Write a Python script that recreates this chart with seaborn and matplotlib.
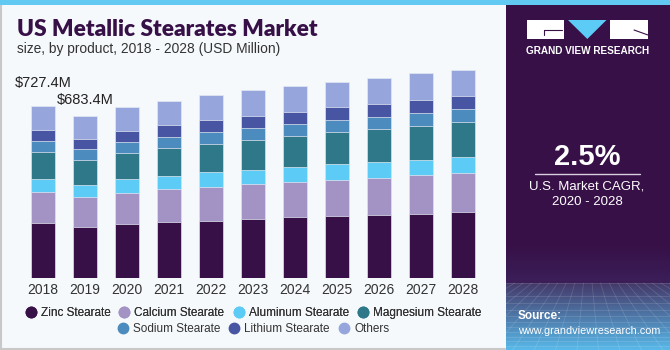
import matplotlib
matplotlib.use("Agg")
import matplotlib.pyplot as plt
import matplotlib.patches as mpatches
from matplotlib.lines import Line2D
import numpy as np
import pandas as pd
import seaborn as sns

years = ["2018", "2019", "2020", "2021", "2022", "2023", "2024", "2025", "2026", "2027", "2028"]
zinc = [229.7, 215.6, 226.9, 235.4, 241.0, 249.5, 255.1, 260.7, 266.4, 270.6, 276.2]
calcium = [131.1, 124.1, 131.1, 138.1, 142.4, 146.5, 150.8, 153.7, 156.4, 162.1, 164.9]
aluminum = [57.8, 53.5, 57.8, 56.4, 62.0, 60.6, 62.0, 64.8, 66.3, 66.2, 67.7]
magnesium = [112.7, 105.7, 112.7, 118.4, 119.8, 126.9, 132.5, 136.7, 139.5, 143.8, 149.4]
sodium = [45.1, 43.7, 45.1, 46.5, 50.7, 49.3, 49.3, 49.3, 50.7, 53.5, 55.0]
lithium = [48.0, 45.1, 46.5, 49.3, 49.3, 52.2, 52.2, 55.0, 55.0, 55.3, 53.7]
others = [103.0, 95.7, 101.5, 102.9, 107.4, 107.5, 108.8, 108.7, 111.5, 112.9, 112.5]

segments = ["Zinc Stearate", "Calcium Stearate", "Aluminum Stearate", "Magnesium Stearate",
            "Sodium Stearate", "Lithium Stearate", "Others"]
series = [zinc, calcium, aluminum, magnesium, sodium, lithium, others]
colors = ["#381048", "#a393c5", "#5ccbf5", "#2f7889", "#4c8bbd", "#4855a3", "#96a6dc"]
annot_labels = ["$727.4M", "$683.4M"]

sns.set_theme(style="white")
plt.rcParams['font.family'] = ['Liberation Sans', 'DejaVu Sans']

BG = "#f5f9fc"
PURPLE = "#371047"
fig = plt.figure(figsize=(6.7, 3.5), dpi=100)
fig.patch.set_facecolor(BG)

W, H = 670.0, 350.0
def fx(px): return px / W
def fy(py): return 1 - py / H

# main axes
ax = fig.add_axes([fx(21.7), fy(277.7), fx(462.0), 217.5 / H])
ax.set_facecolor(BG)

cum = np.zeros(len(years))
cums = []
for s in series:
    cum = cum + np.array(s)
    cums.append(cum.copy())
for name, c, col in reversed(list(zip(segments, cums, colors))):
    d = pd.DataFrame({"year": years, "value": c})
    sns.barplot(data=d, x="year", y="value", order=years, color=col, width=0.58,
                edgecolor="#e3e8f2", linewidth=0.5, saturation=1, ax=ax)

ax.set_xlim(-0.5, 10.5)
ax.set_ylim(0, 920)
ax.set_xlabel("")
ax.set_ylabel("")
ax.set_yticks([])
for sp in ax.spines.values():
    sp.set_visible(False)
ax.tick_params(axis="x", length=0, labelsize=10, labelcolor="#333333", pad=4)

# annotations (offsets in points; 1pt = 1.389px)
totals = cums[-1]
ax.annotate(annot_labels[0], xy=(0, totals[0]), xytext=(-20, 16.3), textcoords="offset points",
            fontsize=10.5, color="#222222", ha="left", va="center")
ax.annotate(annot_labels[1], xy=(1, totals[1]), xytext=(-20, 11.5), textcoords="offset points",
            fontsize=10.5, color="#222222", ha="left", va="center")

# titles
fig.text(fx(17), fy(30), "US Metallic Stearates Market", fontsize=16.3, fontweight="heavy",
         color=PURPLE, ha="left", va="center", family=["Lato", "DejaVu Sans"])
fig.text(fx(17), fy(49), "size, by product, 2018 - 2028 (USD Million)", fontsize=9.9,
         color="#333333", ha="left", va="center")

# legends (two rows, centered)
def handles(idx):
    return [Line2D([0], [0], marker="o", linestyle="", markersize=7.5,
                   markerfacecolor=colors[i], markeredgecolor=colors[i]) for i in idx]
r1 = [0, 1, 2, 3]
r2 = [4, 5, 6]
legkw = dict(loc="center", frameon=False, fontsize=8.5, handletextpad=0.35,
             columnspacing=0.7, borderpad=0, handlelength=1.0)
leg1 = fig.legend(handles(r1), [segments[i] for i in r1],
                  bbox_to_anchor=(fx(253), fy(313)), ncol=4, **legkw)
for t in leg1.get_texts():
    t.set_color("#333333")
leg2 = fig.legend(handles(r2), [segments[i] for i in r2],
                  bbox_to_anchor=(fx(253), fy(329)), ncol=3, **legkw)
for t in leg2.get_texts():
    t.set_color("#333333")
fig.add_artist(leg1)

# frame decorations
fig.add_artist(mpatches.Rectangle((0, fy(5)), 1, 5 / H, transform=fig.transFigure,
                                  color="#62c9f2", lw=0, zorder=5))
fig.add_artist(Line2D([fx(0.8), fx(0.8)], [0, fy(5)], transform=fig.transFigure,
                      color="#c8c8c8", lw=1.5))
fig.add_artist(Line2D([0, fx(505)], [fy(349), fy(349)], transform=fig.transFigure,
                      color="#c8c8c8", lw=1.5))

# right panel
pax = fig.add_axes([fx(505.5), 0, 1 - fx(505.5), fy(5)])
pax.set_xlim(0, 1)
pax.set_ylim(0, 1)
pax.axis("off")
def hexrgb(h):
    return np.array([int(h[i:i + 2], 16) for i in (1, 3, 5)]) / 255.0
top = hexrgb("#371047")
mid = hexrgb("#3c1f59")
gtop = hexrgb("#443868")
bot = hexrgb("#58b8e8")
n = 345
img = np.zeros((n, 1, 3))
g_top_frac = (350 - 283) / 345.0
mid_frac = (350 - 245) / 345.0
for i in range(n):
    g = i / (n - 1)  # 0 bottom, 1 top
    if g < g_top_frac:
        t = g / g_top_frac
        img[i, 0] = bot * (1 - t) + gtop * t
    elif g < mid_frac:
        t = (g - g_top_frac) / (mid_frac - g_top_frac)
        img[i, 0] = mid * (1 - t) + top * t
    else:
        img[i, 0] = top
pax.imshow(img, aspect="auto", extent=(0, 1, 0, 1), origin="lower", zorder=0)
# faint perspective grid in the lower area
gy0 = g_top_frac
for k in range(24):
    xk = k / 23
    pax.plot([0.5 + (xk - 0.5) * 1.2, 0.5 + (xk - 0.5) * 3.0], [gy0, 0.0],
             color="white", alpha=0.16, lw=0.5)
for j in range(11):
    yk = gy0 * (1 - (j / 11) ** 0.7)
    pax.plot([0, 1], [yk, yk], color="white", alpha=0.16, lw=0.5)

# logo
def prect(x0, y0, x1, y1, color, z=3):
    fig.add_artist(mpatches.Rectangle((fx(x0), fy(y1)), fx(x1 - x0), (y1 - y0) / H,
                                      transform=fig.transFigure, color=color, lw=0, zorder=z))
prect(527, 20, 564, 38.5, "white")
prect(610, 20, 648, 38.5, "white")
fig.add_artist(mpatches.Polygon([(fx(568), fy(20)), (fx(606.5), fy(20)), (fx(587.3), fy(39))],
                                closed=True, transform=fig.transFigure, color="#5ccbf5",
                                lw=0, zorder=4))
fig.add_artist(Line2D([fx(544), fx(562)], [fy(30), fy(30)], transform=fig.transFigure,
                      color=PURPLE, lw=0.8, zorder=4))
fig.add_artist(Line2D([fx(544), fx(544)], [fy(30), fy(35)], transform=fig.transFigure,
                      color=PURPLE, lw=0.8, zorder=4))
fig.add_artist(Line2D([fx(634), fx(648)], [fy(30), fy(35)], transform=fig.transFigure,
                      color=PURPLE, lw=0.8, zorder=4))
fig.text(fx(587.5), fy(51), "GRAND VIEW RESEARCH", fontsize=7.2, fontweight="bold",
         color="white", ha="center", va="center", zorder=5)

fig.text(fx(587), fy(157), "2.5%", fontsize=21, fontweight="bold", color="white",
         ha="center", va="center", zorder=5)
fig.add_artist(Line2D([fx(535), fx(640)], [fy(173.5), fy(173.5)], transform=fig.transFigure,
                      color="#d8d0e0", lw=1.0, zorder=5))
fig.text(fx(587), fy(186), "U.S. Market CAGR,", fontsize=9.5, color="white",
         ha="center", va="center", zorder=5)
fig.text(fx(587), fy(202), "2020 - 2028", fontsize=9.5, color="white",
         ha="center", va="center", zorder=5)
fig.text(fx(518), fy(316), "Source:", fontsize=8.5, fontweight="bold", color="white",
         ha="left", va="center", zorder=5)
fig.text(fx(518), fy(331), "www.grandviewresearch.com", fontsize=7.8, color="white",
         ha="left", va="center", zorder=5)

fig.savefig("out.png", dpi=100, facecolor=fig.get_facecolor())
